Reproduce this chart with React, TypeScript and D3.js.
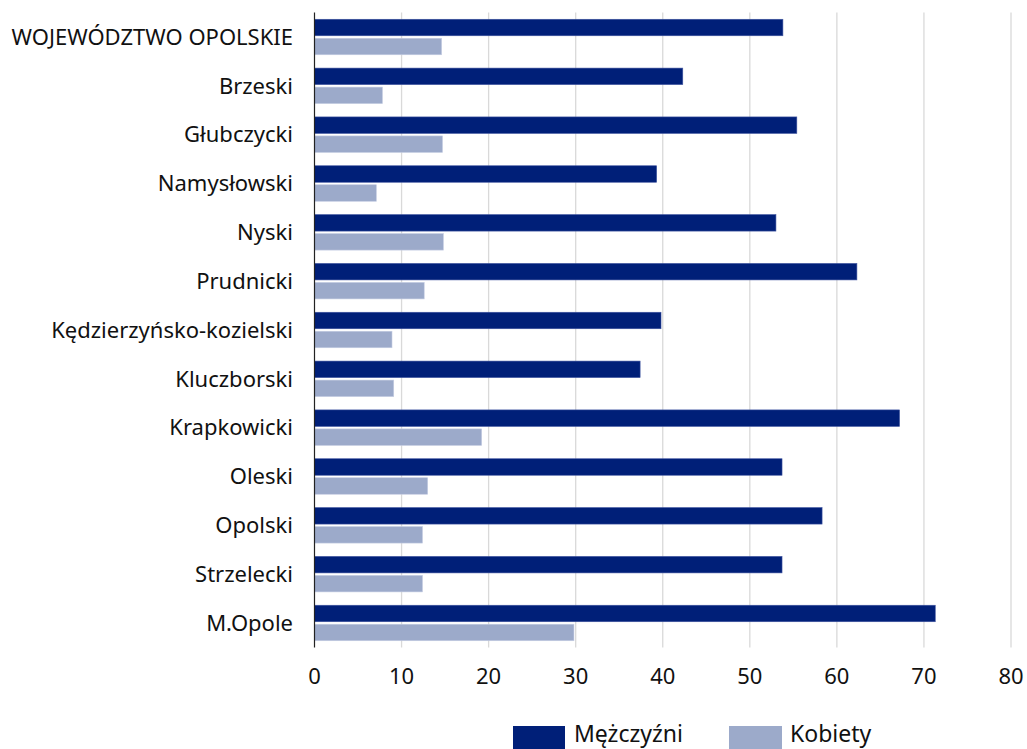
import React from "react";
import * as d3 from "d3";

const categories = [
  "WOJEWÓDZTWO OPOLSKIE",
  "Brzeski",
  "Głubczycki",
  "Namysłowski",
  "Nyski",
  "Prudnicki",
  "Kędzierzyńsko-kozielski",
  "Kluczborski",
  "Krapkowicki",
  "Oleski",
  "Opolski",
  "Strzelecki",
  "M.Opole",
];
const men = [53.8, 42.3, 55.4, 39.3, 53.0, 62.3, 39.8, 37.4, 67.2, 53.7, 58.3, 53.7, 71.3];
const women = [14.6, 7.8, 14.7, 7.1, 14.8, 12.6, 8.9, 9.1, 19.2, 13.0, 12.4, 12.4, 29.8];
const xTicks = [0, 10, 20, 30, 40, 50, 60, 70, 80];
const seriesNames = ["Mężczyźni", "Kobiety"];
const colors = ["#001f78", "#9caaca"];

const W = 1027;
const H = 749;
const FONT = "'Noto Sans', sans-serif";

export default function App() {
  const x = d3.scaleLinear().domain([0, 80]).range([314.5, 1011]);
  const y = d3.scaleBand().domain(categories).range([12.6, 647.4]).paddingInner(0).paddingOuter(0);
  const step = y.bandwidth();
  const barH = 16.5;
  const gap = 2.5;
  const [top, bottom] = y.range();

  return (
    <svg width={W} height={H} style={{ position: "absolute", left: 0, top: 0, background: "#fff" }}>
      {xTicks.slice(1).map((t) => (
        <line key={t} x1={x(t)} x2={x(t)} y1={top} y2={bottom} stroke="#d9d9d9" strokeWidth={1.3} />
      ))}
      {categories.map((c, i) => {
        const cy = (y(c) as number) + step / 2;
        return (
          <g key={c}>
            <rect x={x(0)} y={cy - gap / 2 - barH} width={x(men[i]) - x(0)} height={barH} fill={colors[0]} stroke="#3f55a0" strokeWidth={0.6} />
            <rect x={x(0)} y={cy + gap / 2} width={x(women[i]) - x(0)} height={barH} fill={colors[1]} stroke="#c4cce2" strokeWidth={0.6} />
            <text x={293} y={cy} dy="0.35em" textAnchor="end" fontFamily={FONT} fontSize={22} fill="#111">
              {c}
            </text>
          </g>
        );
      })}
      <line x1={x(0)} x2={x(0)} y1={top} y2={bottom} stroke="#222" strokeWidth={1.2} />
      {xTicks.map((t) => (
        <text key={t} x={x(t)} y={676} dy="0.35em" textAnchor="middle" fontFamily={FONT} fontSize={22} fill="#111">
          {t}
        </text>
      ))}
      <g>
        <rect x={513} y={726} width={52} height={30} fill={colors[0]} />
        <text x={574} y={742} fontFamily={FONT} fontSize={23} fill="#111">{seriesNames[0]}</text>
        <rect x={729} y={726} width={53} height={30} fill={colors[1]} />
        <text x={790} y={742} fontFamily={FONT} fontSize={23} fill="#111">{seriesNames[1]}</text>
      </g>
    </svg>
  );
}
